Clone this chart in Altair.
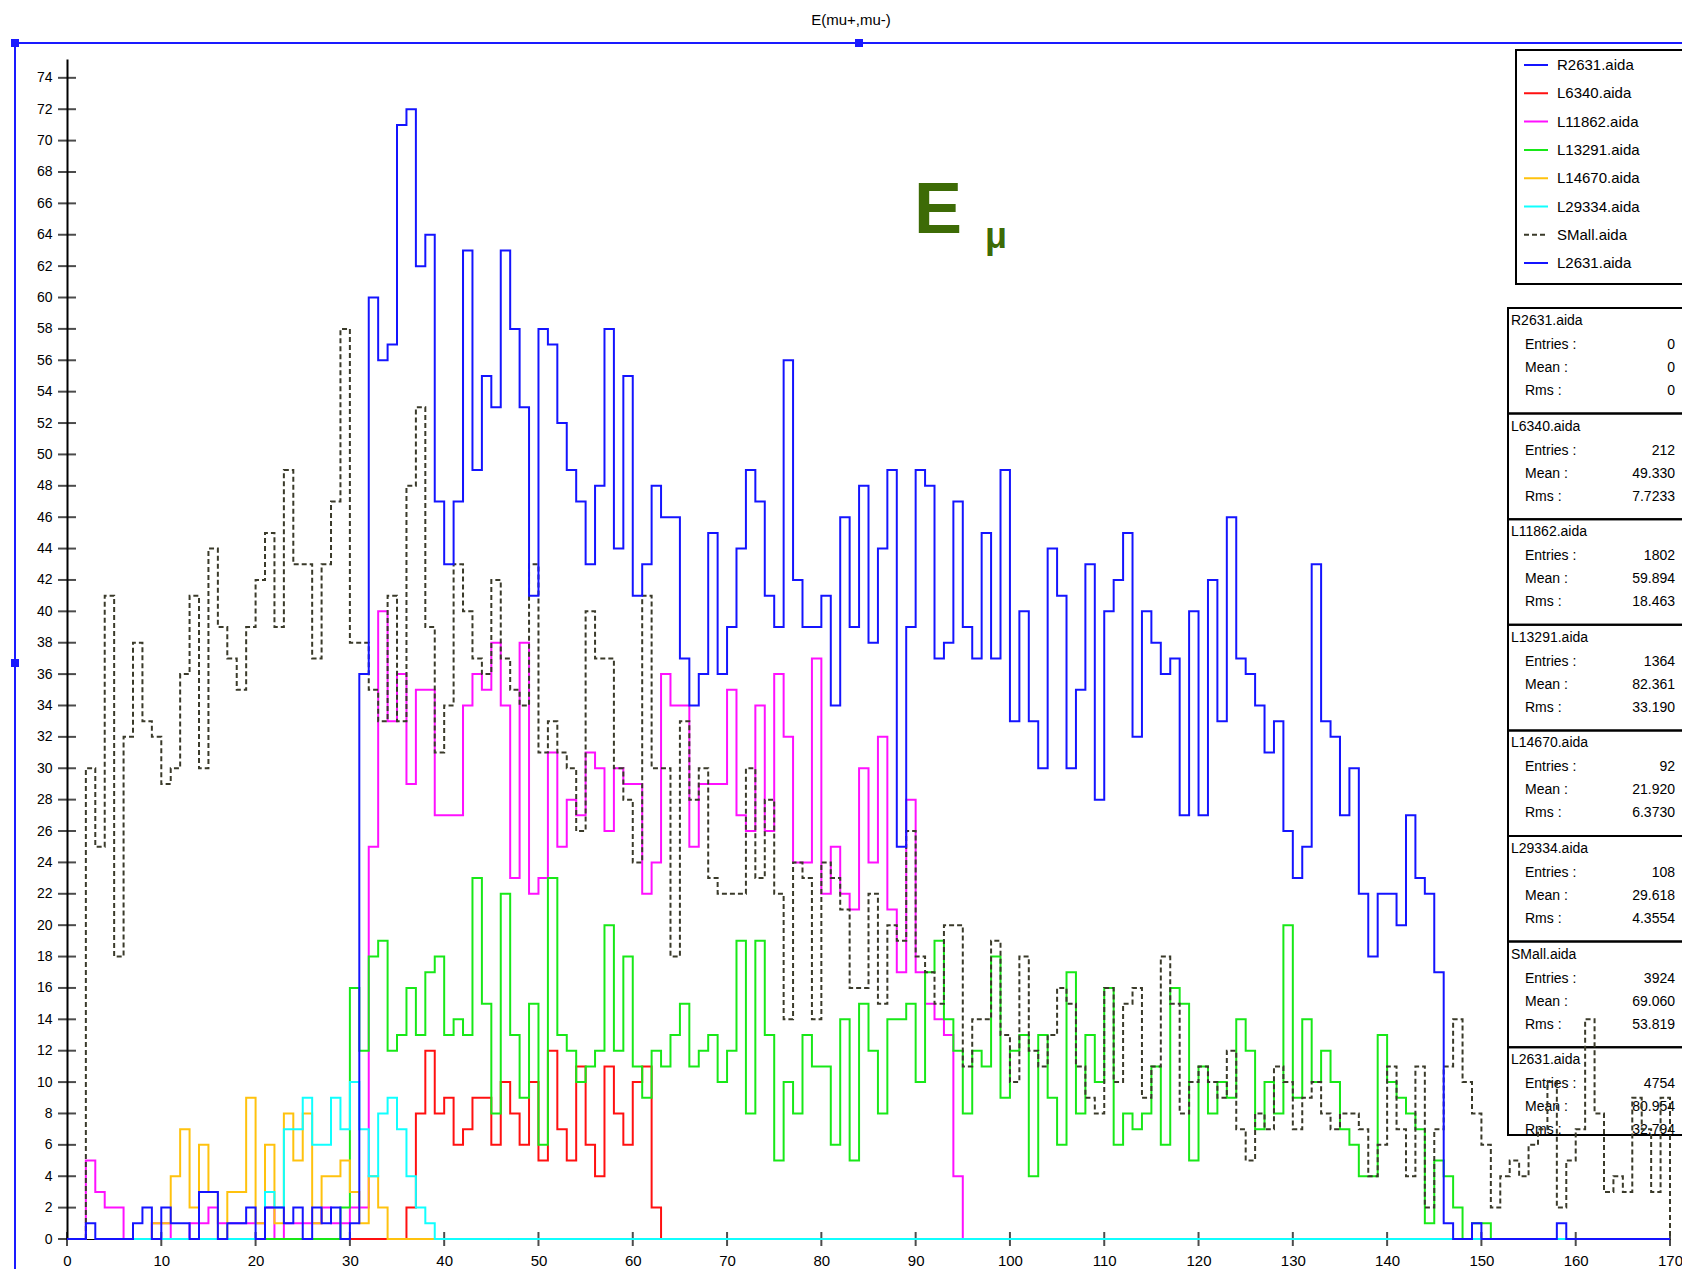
import altair as alt
import pandas as pd

FONT = "Liberation Sans"

# ---------------- data ----------------
SERIES = ["R2631.aida", "L6340.aida", "L11862.aida", "L13291.aida",
          "L14670.aida", "L29334.aida", "SMall.aida", "L2631.aida"]
COLORS = ["#1414ff", "#ff1010", "#ff10ff", "#18e818", "#ffc20e", "#10ffff", "#3a3a2a", "#1414ff"]
DASHES = [[1, 0], [1, 0], [1, 0], [1, 0], [1, 0], [1, 0], [5, 3], [1, 0]]

# each histogram: first bin, bin contents (width 1), x where the last bin ends
R2631_start, R2631_end = 0, 0
R2631 = []

L6340_start, L6340_end = 28, 63
L6340 = [0, 0, 0, 0, 0, 0, 0, 0,
         2, 8, 12, 8, 9, 6, 7, 9, 9, 6, 10, 8, 6, 10, 5, 12, 7, 5, 11, 6, 4, 11, 8, 6, 10, 11, 2]

L11862_start, L11862_end = 0, 95
L11862 = [0, 0, 5, 3, 2, 2, 0, 0, 0, 1,
          1, 0, 0, 1, 1, 2, 1, 1, 1, 1,
          1, 2, 0, 1, 1, 1, 1, 2, 1, 1,
          2, 2, 25, 40, 33, 36, 29, 35, 35, 27,
          27, 27, 34, 36, 35, 38, 34, 23, 38, 22,
          23, 31, 25, 28, 27, 31, 30, 26, 30, 29,
          29, 22, 24, 36, 34, 34, 25, 29, 29, 29,
          35, 27, 26, 34, 26, 36, 32, 24, 24, 37,
          22, 25, 22, 21, 30, 24, 32, 21, 17, 28,
          17, 15, 14, 13, 4]

L13291_start, L13291_end = 21, 151
L13291 = [0, 0, 0, 0, 0, 0, 0, 0, 2,
          16, 12, 18, 19, 12, 13, 16, 13, 17, 18,
          13, 14, 13, 23, 15, 8, 22, 13, 9, 15,
          6, 23, 13, 12, 10, 11, 12, 20, 12, 18,
          11, 9, 12, 11, 13, 15, 11, 12, 13, 10,
          12, 19, 8, 19, 13, 5, 10, 8, 13, 11,
          11, 6, 14, 5, 15, 12, 8, 14, 14, 15,
          10, 17, 19, 14, 12, 8, 12, 11, 18, 9,
          12, 13, 4, 13, 9, 6, 17, 8, 13, 10,
          16, 6, 8, 7, 8, 11, 6, 16, 15, 5,
          11, 8, 10, 9, 14, 12, 7, 10, 8, 20,
          9, 14, 10, 12, 10, 7, 6, 4, 4, 13,
          10, 9, 8, 7, 1, 5, 4, 2, 0, 1, 1]

L14670_start, L14670_end = 8, 39
L14670 = [0, 1, 1, 4, 7, 2, 6, 3, 0, 3, 3, 9, 1, 6, 1, 8, 5, 8, 1, 4, 4, 5, 3, 1, 4, 2,
          0, 0, 0, 0, 0]

L29334_start, L29334_end = 7, 170
L29334 = [0, 0, 0, 0, 0, 0, 0, 0, 0, 0, 0, 0, 0, 0,
          3, 2, 7, 7, 9, 6, 6, 9, 7, 10, 7, 4, 8, 9, 7, 4, 2, 1, 0]

SMALL_start, SMALL_end = 2, 170
SMALL = [30, 25, 41, 18, 32, 38, 33, 32, 29, 30,
         36, 41, 30, 44, 39, 37, 35, 39, 42, 45,
         39, 49, 43, 43, 37, 43, 47, 58, 38, 38,
         35, 33, 41, 33, 48, 53, 39, 31, 34, 43,
         40, 37, 36, 42, 37, 35, 34, 43, 31, 33,
         31, 30, 26, 40, 37, 37, 30, 28, 24, 41,
         30, 30, 18, 33, 28, 30, 23, 22, 22, 22,
         30, 23, 28, 22, 14, 24, 23, 14, 24, 23,
         21, 16, 16, 22, 15, 20, 19, 26, 18, 17,
         15, 20, 20, 11, 14, 14, 19, 13, 10, 18,
         12, 11, 13, 16, 15, 11, 9, 8, 16, 10,
         15, 16, 9, 11, 18, 15, 8, 10, 11, 10,
         9, 12, 7, 5, 8, 7, 11, 10, 7, 9,
         10, 8, 7, 8, 8, 7, 4, 6, 11, 7,
         4, 11, 2, 7, 11, 14, 10, 8, 6, 2,
         4, 5, 4, 6, 7, 10, 2, 5, 7, 14,
         8, 3, 4, 3, 9, 7, 3, 9]

L2631_start, L2631_end = 0, 170
L2631 = [0, 0, 1, 0, 0, 0, 0, 1, 2, 0,
         2, 1, 1, 0, 3, 3, 0, 1, 1, 2,
         0, 2, 2, 1, 2, 0, 2, 1, 2, 0,
         1, 36, 60, 56, 57, 71, 72, 62, 64, 47,
         43, 47, 63, 49, 55, 53, 63, 58, 53, 41,
         58, 57, 52, 49, 47, 43, 48, 58, 44, 55,
         41, 43, 48, 46, 46, 37, 34, 36, 45, 36,
         39, 44, 49, 47, 41, 39, 56, 42, 39, 39,
         41, 34, 46, 39, 48, 38, 44, 49, 25, 39,
         49, 48, 37, 38, 47, 39, 37, 45, 37, 49,
         33, 40, 33, 30, 44, 41, 30, 35, 43, 28,
         40, 42, 45, 32, 40, 38, 36, 37, 27, 40,
         27, 42, 33, 46, 37, 36, 34, 31, 33, 26,
         23, 25, 43, 33, 32, 27, 30, 22, 18, 22,
         22, 20, 27, 23, 22, 17, 1, 0, 0, 1,
         0, 0, 0, 0, 0, 0, 0, 0, 1, 0]

STAT_ENTRIES = ["0", "212", "1802", "1364", "92", "108", "3924", "4754"]
STAT_MEAN = ["0", "49.330", "59.894", "82.361", "21.920", "29.618", "69.060", "80.954"]
STAT_RMS = ["0", "7.7233", "18.463", "33.190", "6.3730", "4.3554", "53.819", "32.794"]

X_TICKS = list(range(0, 171, 10))
Y_TICKS = list(range(0, 75, 2))

HISTS = [
    ("R2631.aida", R2631_start, R2631, R2631_end),
    ("L6340.aida", L6340_start, L6340, L6340_end),
    ("L11862.aida", L11862_start, L11862, L11862_end),
    ("L13291.aida", L13291_start, L13291, L13291_end),
    ("L14670.aida", L14670_start, L14670, L14670_end),
    ("L29334.aida", L29334_start, L29334, L29334_end),
    ("SMall.aida", SMALL_start, SMALL, SMALL_end),
    ("L2631.aida", L2631_start, L2631, L2631_end),
]

rows = []
for name, start, vals, end in HISTS:
    if not vals:
        continue
    pts = [(start, 0)] + [(start + i, v) for i, v in enumerate(vals)] + [(end, vals[-1]), (end, 0)]
    for k, (x, y) in enumerate(pts):
        rows.append({"series": name, "x": x, "y": y, "k": k})
hist_df = pd.DataFrame(rows)

# ---------------- layout (pixels, relative to plot origin) ----------------
W, H = 1603, 1180
color_scale = alt.Scale(domain=SERIES, range=COLORS)
dash_scale = alt.Scale(domain=SERIES, range=DASHES)

X_SCALE = alt.Scale(domain=[0, 170], nice=False, zero=False)
Y_SCALE = alt.Scale(domain=[0, 75.2], nice=False, zero=False)
X_AXIS = alt.Axis(values=X_TICKS, tickSize=0, domainColor="black", domainWidth=1,
                  labelFont=FONT, labelFontSize=15, labelColor="black", labelPadding=14,
                  labelFlush=False, labelOverlap=False, grid=False, title=None)
Y_AXIS = alt.Axis(values=Y_TICKS, tickSize=0, domainColor="black", domainWidth=2,
                  labelFont=FONT, labelFontSize=14, labelColor="black", labelPadding=15,
                  labelOverlap=False, grid=False, title=None)

layers = []

# stats boxes (drawn first, transparent)
ST_TOP, ST_H, ST_BOTTOM = 249, 105.6, 1076
box_rows, text_rows = [], []
for j, name in enumerate(SERIES):
    top = ST_TOP + j * ST_H
    bottom = min(top + ST_H, ST_BOTTOM)
    box_rows.append({"y0": top, "y1": bottom})
    text_rows.append({"t": name, "py": top + 13, "col": "title"})
    text_rows.append({"t": "Entries :", "py": top + 37, "col": "lab"})
    text_rows.append({"t": "Mean :", "py": top + 60, "col": "lab"})
    text_rows.append({"t": "Rms :", "py": top + 83, "col": "lab"})
    text_rows.append({"t": STAT_ENTRIES[j], "py": top + 37, "col": "val"})
    text_rows.append({"t": STAT_MEAN[j], "py": top + 60, "col": "val"})
    text_rows.append({"t": STAT_RMS[j], "py": top + 83, "col": "val"})
box_df = pd.DataFrame(box_rows)
stat_df = pd.DataFrame(text_rows)

layers.append(alt.Chart(box_df).mark_rect(fill="white", fillOpacity=0, stroke="black", strokeWidth=2).encode(
    x=alt.value(1441), x2=alt.value(1700),
    y=alt.Y("y0:Q", scale=None), y2="y1:Q"))
layers.append(alt.Chart(stat_df).transform_filter(alt.datum.col == "title").mark_text(
    align="left", baseline="middle", font=FONT, fontSize=14, color="black").encode(
    x=alt.value(1444), y=alt.Y("py:Q", scale=None), text="t:N"))
layers.append(alt.Chart(stat_df).transform_filter(alt.datum.col == "lab").mark_text(
    align="left", baseline="middle", font=FONT, fontSize=14, color="black").encode(
    x=alt.value(1458), y=alt.Y("py:Q", scale=None), text="t:N"))
layers.append(alt.Chart(stat_df).transform_filter(alt.datum.col == "val").mark_text(
    align="right", baseline="middle", font=FONT, fontSize=14, color="black").encode(
    x=alt.value(1608), y=alt.Y("py:Q", scale=None), text="t:N"))

# legend box
leg_df = pd.DataFrame({"series": SERIES, "py": [6 + 28.3 * i for i in range(len(SERIES))]})
layers.append(alt.Chart(pd.DataFrame({"a": [0]})).mark_rect(fill="white", stroke="black", strokeWidth=2).encode(
    x=alt.value(1449), x2=alt.value(1700), y=alt.value(-9), y2=alt.value(225)))
layers.append(alt.Chart(leg_df).mark_rule(strokeWidth=2).encode(
    x=alt.value(1457), x2=alt.value(1481), y=alt.Y("py:Q", scale=None),
    color=alt.Color("series:N", scale=color_scale, legend=None),
    strokeDash=alt.StrokeDash("series:N", scale=dash_scale, legend=None)))
layers.append(alt.Chart(leg_df).mark_text(align="left", baseline="middle", font=FONT, fontSize=15,
                                          color="black").encode(
    x=alt.value(1490), y=alt.Y("py:Q", scale=None), text="series:N"))

# axis crossing ticks
layers.append(alt.Chart(pd.DataFrame({"v": Y_TICKS})).mark_tick(
    orient="horizontal", size=18, thickness=2, color="black").encode(
    x=alt.X("z:Q", scale=X_SCALE, axis=X_AXIS), y=alt.Y("v:Q", scale=Y_SCALE, axis=Y_AXIS)
).transform_calculate(z="0"))
layers.append(alt.Chart(pd.DataFrame({"v": X_TICKS})).mark_tick(
    orient="vertical", size=14, thickness=2, color="black").encode(
    x=alt.X("v:Q", scale=X_SCALE, axis=X_AXIS), y=alt.Y("z:Q", scale=Y_SCALE, axis=Y_AXIS)
).transform_calculate(z="0"))

# histograms
base = alt.Chart(hist_df).mark_line(interpolate="step-after", strokeWidth=2).encode(
    x=alt.X("x:Q", scale=X_SCALE, axis=X_AXIS),
    y=alt.Y("y:Q", scale=Y_SCALE, axis=Y_AXIS),
    color=alt.Color("series:N", scale=color_scale, legend=None),
    strokeDash=alt.StrokeDash("series:N", scale=dash_scale, legend=None),
    order=alt.Order("k:Q"),
)
for name, start, vals, end in HISTS:
    if vals:
        layers.append(base.transform_filter(alt.datum.series == name))

# annotation "E mu"
one = pd.DataFrame({"a": [0]})
layers.append(alt.Chart(one).mark_text(text="E", font=FONT, fontSize=72, fontWeight="bold",
                                       color="#3d6b06", align="center", baseline="middle").encode(
    x=alt.value(871), y=alt.value(152)))
layers.append(alt.Chart(one).mark_text(text="μ", font=FONT, fontSize=36, fontWeight="bold",
                                       color="#3d6b06", align="center", baseline="middle").encode(
    x=alt.value(929), y=alt.value(178)))

# title
layers.append(alt.Chart(one).mark_text(text="E(mu+,mu-)", font=FONT, fontSize=15, color="black",
                                       align="center", baseline="middle").encode(
    x=alt.value(784), y=alt.value(-39)))

# blue selection frame
layers.append(alt.Chart(one).mark_rule(color="#1a1aff", strokeWidth=2).encode(
    x=alt.value(-52), x2=alt.value(1700), y=alt.value(-16)))
layers.append(alt.Chart(one).mark_rule(color="#1a1aff", strokeWidth=2).encode(
    x=alt.value(-52), y=alt.value(-16), y2=alt.value(1300)))
handles = pd.DataFrame({"hx": [-52, 792, -52], "hy": [-16, -16, 604]})
layers.append(alt.Chart(handles).mark_square(size=64, color="#1a1aff", opacity=1).encode(
    x=alt.X("hx:Q", scale=None), y=alt.Y("hy:Q", scale=None)))

chart = alt.layer(*layers).properties(
    width=W, height=H,
    padding={"left": 59, "top": 51, "right": 12, "bottom": 30},
    autosize=alt.AutoSizeParams(type="none"),
).configure_view(stroke=None)

chart.save("out.html", embed_options={"renderer": "svg", "actions": False})
